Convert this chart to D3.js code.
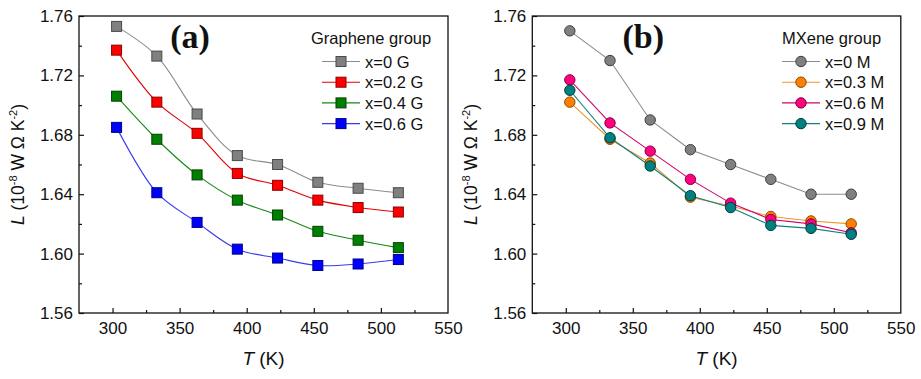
<!DOCTYPE html>
<html>
<head>
<meta charset="utf-8">
<script src="https://cdn.jsdelivr.net/npm/d3@7"></script>
<style>
  body { margin: 0; background: #fff; }
  svg { display: block; font-family: Arial, "Liberation Sans", sans-serif; }
  .tick text { font-size: 17px; fill: #111; }
  .tick line { stroke: #111; stroke-width: 1.2; }
</style>
</head>
<body>
<div id="chart"></div>
<script>
// Temperaturas comunes (K)
const temps = [303, 333, 363, 393, 423, 453, 483, 513];

// (a) grupo grafeno
const grapheneNames = ['x=0 G', 'x=0.2 G', 'x=0.4 G', 'x=0.6 G'];
const grapheneX0 = [1.753, 1.733, 1.694, 1.666, 1.660, 1.648, 1.644, 1.641];
const grapheneX02 = [1.737, 1.702, 1.681, 1.654, 1.646, 1.636, 1.631, 1.628];
const grapheneX04 = [1.706, 1.677, 1.653, 1.636, 1.626, 1.615, 1.609, 1.604];
const grapheneX06 = [1.685, 1.641, 1.621, 1.603, 1.597, 1.592, 1.593, 1.596];

// (b) grupo MXene
const mxeneNames = ['x=0 M', 'x=0.3 M', 'x=0.6 M', 'x=0.9 M'];
const mxeneX0 = [1.750, 1.730, 1.690, 1.670, 1.660, 1.650, 1.640, 1.640];
const mxeneX03 = [1.702, 1.677, 1.661, 1.638, 1.632, 1.625, 1.622, 1.620];
const mxeneX06 = [1.717, 1.688, 1.669, 1.650, 1.634, 1.623, 1.620, 1.614];
const mxeneX09 = [1.710, 1.678, 1.659, 1.639, 1.631, 1.619, 1.617, 1.613];

const xTicks = [300, 350, 400, 450, 500, 550];
const yTicks = [1.56, 1.60, 1.64, 1.68, 1.72, 1.76];

const W = 921, H = 379;
const svg = d3.select('#chart').append('svg').attr('width', W).attr('height', H).attr('viewBox', `0 0 ${W} ${H}`);

function drawPanel(cfg) {
  const g = svg.append('g').attr('transform', `translate(${cfg.left},${cfg.top})`);
  const innerW = cfg.width, innerH = cfg.height;
  const x = d3.scaleLinear().domain([275, 550]).range([0, innerW]);
  const y = d3.scaleLinear().domain([1.56, 1.76]).range([innerH, 0]);

  // ejes con ticks hacia dentro
  const xAxis = g.append('g').attr('transform', `translate(0,${innerH})`)
    .call(d3.axisBottom(x).tickValues(xTicks).tickSize(-5).tickPadding(9).tickFormat(d3.format('d')));
  g.append('g').attr('transform', `translate(0,${innerH})`)
    .call(d3.axisBottom(x).tickValues([325, 375, 425, 475, 525]).tickSize(-3).tickFormat(''));
  g.append('g')
    .call(d3.axisLeft(y).tickValues(yTicks).tickSize(-5).tickPadding(6).tickFormat(d3.format('.2f')));
  g.append('g')
    .call(d3.axisLeft(y).tickValues([1.58, 1.62, 1.66, 1.70, 1.74]).tickSize(-3).tickFormat(''));
  g.selectAll('.domain').remove();
  xAxis.selectAll('.tick').filter(d => d === 550).select('line').remove();

  g.append('rect').attr('width', innerW).attr('height', innerH)
    .attr('fill', 'none').attr('stroke', '#111').attr('stroke-width', 1.3);

  const line = d3.line().x((d, i) => x(temps[i])).y(d => y(d)).curve(cfg.curve);

  cfg.series.forEach(s => {
    g.append('path').datum(s.values).attr('d', line)
      .attr('fill', 'none').attr('stroke', s.line).attr('stroke-width', 1.1);
  });
  cfg.series.forEach(s => {
    drawMarkers(g, s.values.map((v, i) => [x(temps[i]), y(v)]), s, cfg.shape);
  });

  // títulos de ejes
  const xt = g.append('text').attr('x', innerW / 2).attr('y', innerH + 52)
    .attr('text-anchor', 'middle').style('font-size', '19px').attr('fill', '#111');
  xt.append('tspan').style('font-style', 'italic').text('T');
  xt.append('tspan').text(' (K)');

  const yt = g.append('text').attr('transform', `translate(${cfg.yLabelX},${innerH / 2}) rotate(-90)`)
    .attr('text-anchor', 'middle').style('font-size', '17.5px').attr('fill', '#111');
  yt.append('tspan').style('font-style', 'italic').text('L');
  yt.append('tspan').text(' (10');
  yt.append('tspan').attr('dy', -7).style('font-size', '11px').text('-8');
  yt.append('tspan').attr('dy', 7).text(' W Ω K');
  yt.append('tspan').attr('dy', -7).style('font-size', '11px').text('-2');
  yt.append('tspan').attr('dy', 7).text(')');

  // etiqueta de panel
  g.append('text').attr('x', cfg.tagX).attr('y', 32).attr('text-anchor', 'middle')
    .style('font-family', '"Liberation Serif", "Times New Roman", serif')
    .style('font-weight', 'bold').style('font-size', '34px').attr('fill', '#111').text(cfg.tag);

  // leyenda
  const lg = g.append('g').attr('transform', `translate(${cfg.legendX},0)`);
  lg.append('text').attr('x', cfg.titleDx).attr('y', 27.5).style('font-size', '16.5px').attr('fill', '#111').text(cfg.legendTitle);
  cfg.series.forEach((s, i) => {
    const cy = 45.5 + i * 20.7;
    lg.append('line').attr('x1', 0).attr('x2', 38).attr('y1', cy).attr('y2', cy)
      .attr('stroke', s.line).attr('stroke-width', 1.1);
    drawMarkers(lg, [[19, cy]], s, cfg.shape);
    lg.append('text').attr('x', 43).attr('y', cy + 6).style('font-size', '16.5px').attr('fill', '#111').text(s.name);
  });
}

function drawMarkers(g, pts, s, shape) {
  if (shape === 'square') {
    g.selectAll(null).data(pts).join('rect')
      .attr('x', d => d[0] - 5).attr('y', d => d[1] - 5).attr('width', 10).attr('height', 10)
      .attr('fill', s.fill).attr('stroke', s.edge).attr('stroke-width', 1);
  } else {
    g.selectAll(null).data(pts).join('circle')
      .attr('cx', d => d[0]).attr('cy', d => d[1]).attr('r', 5.2)
      .attr('fill', s.fill).attr('stroke', s.edge).attr('stroke-width', 1);
  }
}

drawPanel({
  left: 79, top: 16, width: 369, height: 297, yLabelX: -55, tag: '(a)', tagX: 111,
  shape: 'square', curve: d3.curveCatmullRom.alpha(0.5),
  legendX: 243, titleDx: -11, legendTitle: 'Graphene group',
  series: [
    { name: grapheneNames[0], values: grapheneX0, fill: '#808080', edge: '#4a4a4a', line: '#8c8c8c' },
    { name: grapheneNames[1], values: grapheneX02, fill: '#ff0000', edge: '#8a0000', line: '#e00000' },
    { name: grapheneNames[2], values: grapheneX04, fill: '#008000', edge: '#004000', line: '#138a13' },
    { name: grapheneNames[3], values: grapheneX06, fill: '#0000ff', edge: '#00008a', line: '#3a3aee' }
  ]
});

drawPanel({
  left: 532.3, top: 16, width: 368.5, height: 297, yLabelX: -55, tag: '(b)', tagX: 111,
  shape: 'circle', curve: d3.curveLinear,
  legendX: 249.7, titleDx: 0, legendTitle: 'MXene group',
  series: [
    { name: mxeneNames[0], values: mxeneX0, fill: '#808080', edge: '#3c3c3c', line: '#8c8c8c' },
    { name: mxeneNames[1], values: mxeneX03, fill: '#ff8000', edge: '#8a4a00', line: '#f0962a' },
    { name: mxeneNames[2], values: mxeneX06, fill: '#ff0080', edge: '#80003c', line: '#d4006a' },
    { name: mxeneNames[3], values: mxeneX09, fill: '#008080', edge: '#003c3c', line: '#108080' }
  ]
});
</script>
</body>
</html>
